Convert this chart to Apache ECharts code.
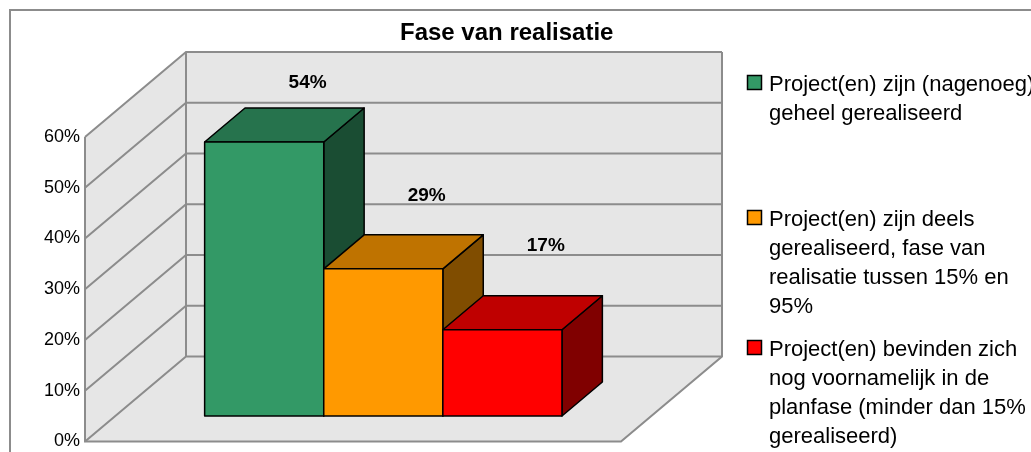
<!DOCTYPE html>
<html><head><meta charset="utf-8">
<script src="https://cdn.jsdelivr.net/npm/echarts@6/dist/echarts.min.js"></script>
<style>html,body{margin:0;padding:0;background:#fff}#c{width:1031px;height:452px}</style>
</head><body><div id="c"></div>
<script>
// ---- data ----
const chartTitle = 'Fase van realisatie';
const categories = [''];
const seriesNames = [
  'Project(en) zijn (nagenoeg)\ngeheel gerealiseerd',
  'Project(en) zijn deels\ngerealiseerd, fase van\nrealisatie tussen 15% en\n95%',
  'Project(en) bevinden zich\nnog voornamelijk in de\nplanfase (minder dan 15%\ngerealiseerd)'
];
const values = [54, 29, 17];
const yTicks = [0, 10, 20, 30, 40, 50, 60];

// ---- styling ----
const FONT = "'Liberation Sans', Arial, sans-serif";
const frontColors = ['#339966', '#ff9900', '#ff0000'];
const topColors = ['#26734d', '#bf7300', '#bf0000'];
const sideColors = ['#1a4d33', '#804d00', '#800000'];
const wallFill = '#e6e6e6';
const wallLine = '#8c8c8c';
const DEPTH = [101, -85];      // full depth offset in px
const F0 = 0.3, F1 = 0.7;      // bar depth range (fraction of depth)
const labelLift = [25, 39, 50];

function shift(pt, f) { return [pt[0] + DEPTH[0] * f, pt[1] + DEPTH[1] * f]; }

function wallsRender(params, api) {
  const band = api.size([1, 0])[0];
  const cx = api.coord([0, 0])[0];
  const L = cx - band / 2, R = cx + band / 2;
  const yMin = yTicks[0], yMax = yTicks[yTicks.length - 1];
  const y0 = api.coord([0, yMin])[1], y1 = api.coord([0, yMax])[1];
  const kids = [];
  const ls = { stroke: wallLine, lineWidth: 2, fill: null };
  kids.push({ type: 'polygon', shape: { points: [[L, y1], shift([L, y1], 1), shift([L, y0], 1), [L, y0]] }, style: { fill: wallFill } });
  kids.push({ type: 'polygon', shape: { points: [shift([L, y1], 1), shift([R, y1], 1), shift([R, y0], 1), shift([L, y0], 1)] }, style: { fill: wallFill } });
  kids.push({ type: 'polygon', shape: { points: [[L, y0], [R, y0], shift([R, y0], 1), shift([L, y0], 1)] }, style: { fill: wallFill } });
  yTicks.forEach(t => {
    const y = api.coord([0, t])[1];
    kids.push({ type: 'polyline', shape: { points: [[L, y], shift([L, y], 1), shift([R, y], 1)] }, style: ls });
  });
  kids.push({ type: 'polyline', shape: { points: [[L, y1], [L, y0], [R, y0], shift([R, y0], 1), shift([R, y1], 1)] }, style: ls });
  kids.push({ type: 'line', shape: { x1: L + DEPTH[0], y1: y1 + DEPTH[1], x2: L + DEPTH[0], y2: y0 + DEPTH[1] }, style: ls });
  return { type: 'group', children: kids };
}

function barRender(i) {
  return function (params, api) {
    const v = api.value(1);
    const top = api.coord([api.value(0), v]);
    const base = api.coord([api.value(0), 0]);
    const band = api.size([1, 0])[0];
    const bw = band / 4.5;
    const l = top[0] - 1.5 * bw + i * bw, r = l + bw;
    const yt = top[1], yb = base[1];
    const bs = { stroke: '#000', lineWidth: 1.5, lineJoin: 'round' };
    const side = [shift([r, yt], F0), shift([r, yt], F1), shift([r, yb], F1), shift([r, yb], F0)];
    const topF = [shift([l, yt], F0), shift([r, yt], F0), shift([r, yt], F1), shift([l, yt], F1)];
    const front = [shift([l, yt], F0), shift([r, yt], F0), shift([r, yb], F0), shift([l, yb], F0)];
    const lp = shift([(l + r) / 2 + 3, yt], F1);
    return { type: 'group', children: [
      { type: 'polygon', shape: { points: side }, style: Object.assign({ fill: sideColors[i] }, bs) },
      { type: 'polygon', shape: { points: topF }, style: Object.assign({ fill: topColors[i] }, bs) },
      { type: 'polygon', shape: { points: front }, style: Object.assign({ fill: frontColors[i] }, bs) },
      { type: 'text', x: lp[0], y: lp[1] - labelLift[i], style: { text: v + '%', fontFamily: FONT, fontWeight: 'bold', fontSize: 19, fill: '#000', align: 'center', verticalAlign: 'middle' } }
    ] };
  };
}

const series = [{
  type: 'custom', name: 'walls', z: 1, silent: true, renderItem: wallsRender,
  data: [[0, 0]], encode: { x: 0, y: 1 }
}];
values.forEach((v, i) => series.push({
  type: 'custom', name: seriesNames[i], z: 2, renderItem: barRender(i),
  data: [[0, v]], encode: { x: 0, y: 1 }
}));

const legendTops = [70, 205, 335];
const graphic = [{ type: 'rect', shape: { x: 10, y: 10, width: 1040, height: 470 }, style: { fill: null, stroke: wallLine, lineWidth: 2 }, z: 0 }];
seriesNames.forEach((n, i) => {
  graphic.push({ type: 'rect', shape: { x: 747.5, y: legendTops[i] + 5.5, width: 14, height: 14 }, style: { fill: frontColors[i], stroke: '#000', lineWidth: 1.5 } });
  graphic.push({ type: 'text', x: 769, y: legendTops[i], style: { text: n, fontFamily: FONT, fontSize: 22, lineHeight: 29, fill: '#000', align: 'left', verticalAlign: 'top' } });
});

const chart = echarts.init(document.getElementById('c'));
chart.setOption({
  animation: false,
  backgroundColor: '#fff',
  title: { text: chartTitle, left: 400, top: 21, padding: 0, textStyle: { fontFamily: FONT, fontWeight: 'bold', fontSize: 24, color: '#000' } },
  grid: { left: 85, top: 137, width: 536, height: 304.5, containLabel: false },
  xAxis: { type: 'category', data: categories, show: false },
  yAxis: { type: 'value', min: 0, max: 60, interval: 10, axisLine: { show: false }, axisTick: { show: false }, splitLine: { show: false },
    axisLabel: { formatter: '{value}%', fontFamily: FONT, fontSize: 18, color: '#000', margin: 5, padding: [6, 0, 0, 0] } },
  graphic: graphic,
  series: series
});
</script></body></html>
